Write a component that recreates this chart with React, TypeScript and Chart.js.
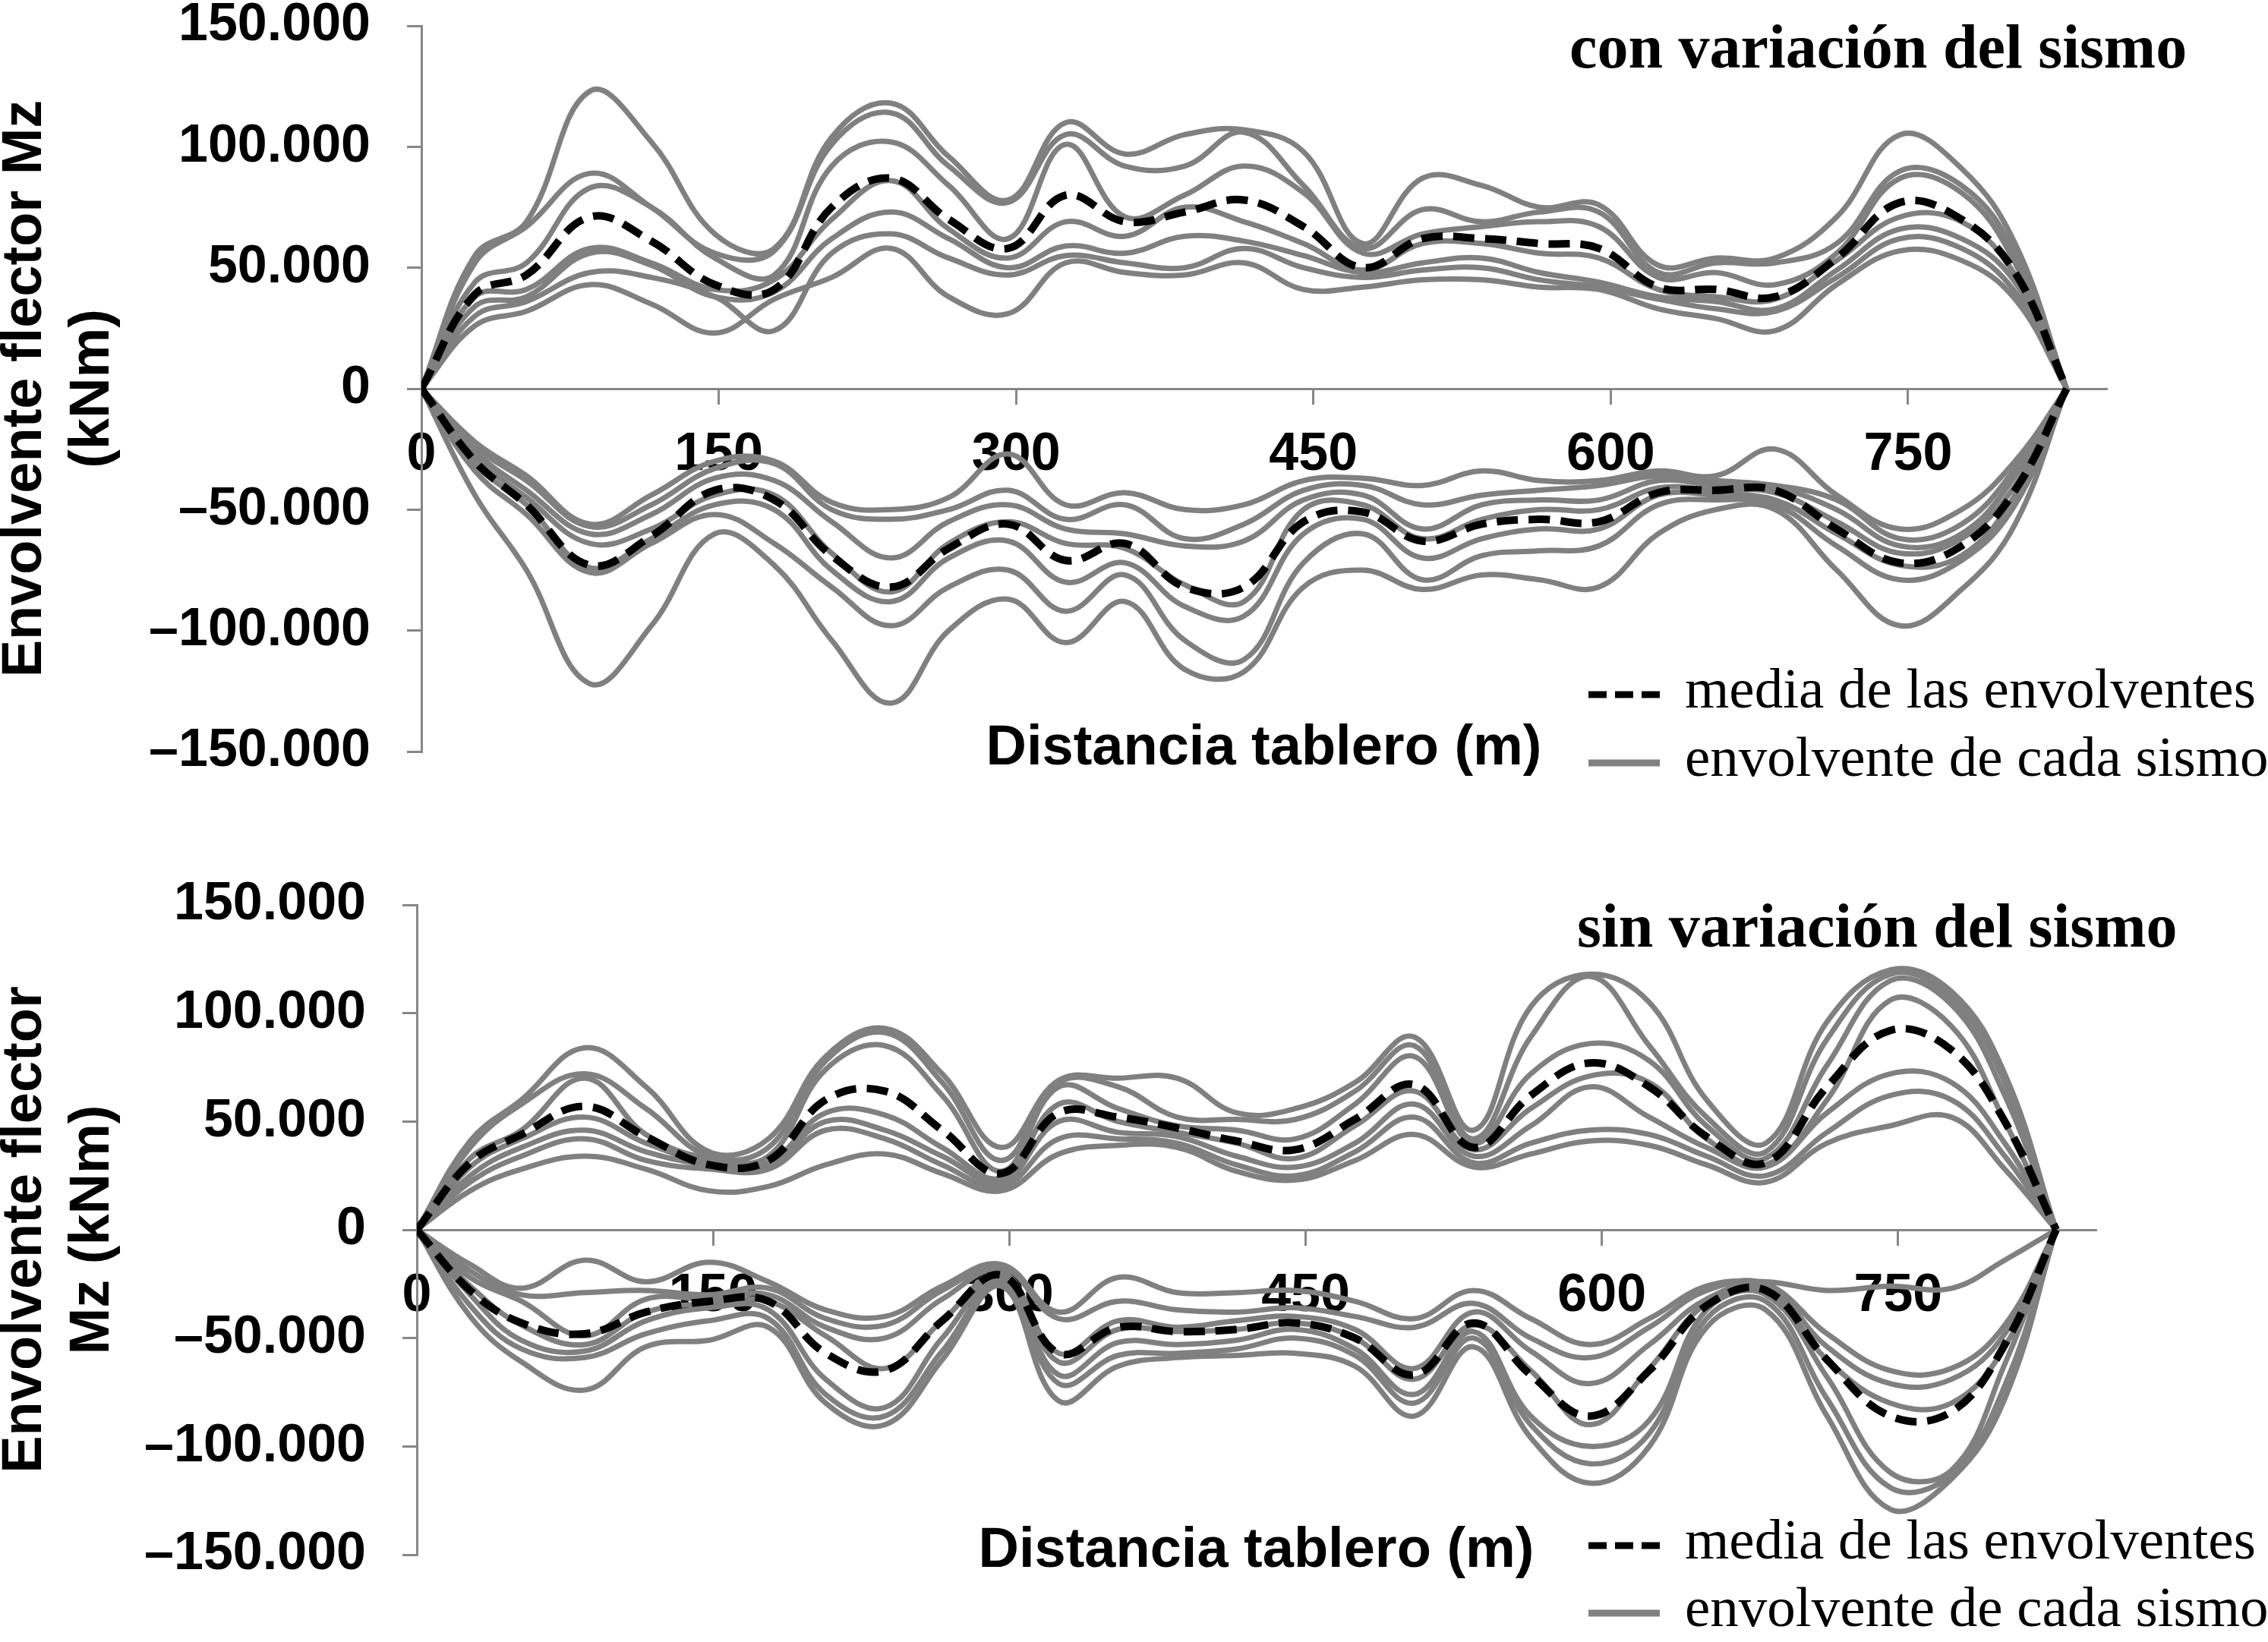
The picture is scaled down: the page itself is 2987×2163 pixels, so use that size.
import { useEffect, useRef } from 'react';
import { Chart, registerables } from 'chart.js';

Chart.register(...registerables);

// distance along the deck (m) where each envelope was sampled
const stations = [0, 27, 53, 85, 116, 148, 178, 207, 237, 266, 296, 325, 355, 385, 415, 445, 475, 505, 535, 564, 594, 624, 653, 683, 714, 746, 777, 804, 830];

// values in thousands of kNm, one row per earthquake record
const conMaxSeries = [
  [0, 55, 69, 123, 102, 64, 58, 104, 118, 96, 78, 110, 97, 105, 107, 98, 60, 87, 84, 75, 76, 51, 54, 54, 71, 105, 91, 60, 0],
  [0, 52, 67, 89, 75, 56, 57, 101, 114, 92, 77, 105, 92, 92, 106, 84, 58, 74, 69, 73, 73, 48, 52, 52, 60, 90, 84, 56, 0],
  [0, 44, 52, 83, 75, 54, 47, 92, 102, 84, 62, 101, 71, 80, 92, 81, 56, 64, 67, 69, 67, 46, 48, 43, 56, 87, 81, 52, 0],
  [0, 38, 41, 58, 52, 41, 45, 70, 86, 66, 54, 69, 63, 75, 69, 60, 49, 60, 60, 56, 54, 41, 38, 37, 53, 71, 69, 47, 0],
  [0, 34, 38, 56, 51, 38, 40, 62, 73, 62, 50, 59, 56, 63, 61, 55, 48, 52, 54, 48, 44, 38, 36, 33, 49, 66, 62, 44, 0],
  [0, 30, 36, 48, 46, 38, 24, 56, 64, 54, 47, 55, 52, 50, 58, 50, 46, 49, 50, 45, 42, 37, 33, 32, 46, 62, 58, 40, 0],
  [0, 26, 32, 43, 35, 23, 37, 46, 58, 38, 31, 52, 48, 47, 52, 41, 42, 45, 45, 42, 41, 33, 29, 24, 43, 57, 53, 37, 0],
];
const conMaxMean = [0, 39, 47, 71, 61, 43, 41, 75, 87, 70, 58, 80, 69, 73, 78, 67, 50, 62, 62, 60, 58, 42, 41, 38, 54, 77, 70, 48, 0];

const conMinSeries = [
  [0, -44, -75, -122, -98, -60, -73, -104, -130, -100, -87, -105, -88, -116, -117, -82, -75, -83, -77, -79, -82, -60, -50, -50, -75, -98, -83, -56, 0],
  [0, -34, -52, -76, -64, -52, -64, -82, -98, -82, -75, -92, -77, -104, -112, -72, -60, -79, -69, -67, -65, -48, -46, -48, -65, -79, -71, -48, 0],
  [0, -31, -48, -74, -62, -48, -50, -75, -88, -70, -63, -80, -72, -90, -94, -60, -54, -70, -62, -58, -58, -44, -44, -46, -60, -73, -69, -44, 0],
  [0, -28, -45, -64, -58, -44, -44, -68, -84, -64, -55, -64, -66, -81, -88, -50, -48, -62, -54, -50, -50, -41, -42, -43, -55, -68, -62, -40, 0],
  [0, -26, -42, -60, -52, -37, -38, -55, -70, -55, -48, -58, -60, -65, -63, -46, -44, -58, -48, -46, -46, -38, -40, -41, -50, -65, -60, -36, 0],
  [0, -24, -38, -57, -48, -33, -31, -50, -54, -50, -42, -54, -48, -62, -56, -42, -40, -48, -44, -42, -40, -36, -38, -40, -46, -62, -56, -33, 0],
  [0, -22, -36, -56, -44, -30, -30, -47, -50, -45, -27, -48, -43, -50, -48, -38, -37, -40, -34, -38, -38, -34, -36, -25, -44, -58, -50, -30, 0],
];
const conMinMean = [0, -30, -48, -73, -61, -42, -46, -69, -82, -66, -56, -71, -64, -82, -82, -55, -51, -63, -56, -54, -55, -43, -42, -42, -58, -72, -65, -42, 0];

const sinMaxSeries = [
  [0, 41, 60, 84, 66, 36, 42, 80, 93, 72, 38, 69, 70, 70, 54, 56, 68, 89, 46, 103, 118, 105, 60, 40, 96, 120, 110, 72, 0],
  [0, 38, 58, 72, 56, 34, 38, 78, 91, 68, 32, 68, 66, 52, 51, 51, 64, 85, 42, 89, 117, 85, 52, 36, 88, 118, 107, 68, 0],
  [0, 33, 46, 70, 44, 33, 34, 74, 85, 62, 27, 66, 56, 48, 46, 42, 58, 80, 40, 72, 86, 78, 48, 33, 76, 115, 104, 62, 0],
  [0, 29, 42, 52, 40, 31, 31, 54, 53, 38, 24, 58, 50, 45, 40, 33, 48, 64, 37, 56, 71, 68, 42, 30, 60, 106, 94, 50, 0],
  [0, 25, 38, 46, 36, 30, 30, 50, 46, 34, 22, 50, 45, 43, 34, 29, 40, 58, 34, 48, 66, 52, 38, 29, 54, 72, 68, 40, 0],
  [0, 22, 34, 42, 32, 28, 28, 46, 42, 30, 20, 42, 42, 40, 30, 25, 36, 52, 31, 40, 46, 44, 34, 25, 45, 62, 60, 34, 0],
  [0, 18, 28, 34, 28, 18, 20, 30, 35, 26, 18, 35, 39, 38, 27, 23, 32, 44, 29, 35, 41, 39, 30, 22, 40, 48, 52, 28, 0],
];
const sinMaxMean = [0, 31, 44, 57, 43, 30, 32, 60, 64, 46, 26, 54, 52, 47, 41, 37, 51, 67, 38, 62, 77, 66, 43, 31, 66, 92, 83, 50, 0];

const sinMinSeries = [
  [0, -40, -61, -74, -54, -51, -45, -80, -90, -60, -26, -79, -63, -59, -58, -57, -63, -86, -54, -96, -117, -100, -45, -37, -86, -129, -115, -78, 0],
  [0, -35, -55, -59, -48, -42, -41, -76, -86, -56, -24, -71, -58, -57, -55, -50, -58, -80, -50, -90, -108, -94, -41, -33, -78, -119, -113, -72, 0],
  [0, -30, -51, -56, -42, -36, -37, -69, -82, -50, -22, -67, -52, -53, -51, -46, -55, -76, -47, -86, -100, -88, -37, -30, -68, -112, -111, -62, 0],
  [0, -26, -44, -53, -38, -34, -33, -49, -64, -42, -20, -61, -46, -47, -46, -43, -50, -69, -44, -65, -90, -64, -34, -28, -60, -80, -80, -54, 0],
  [0, -22, -33, -49, -32, -32, -30, -45, -50, -32, -19, -57, -42, -45, -42, -40, -46, -64, -38, -56, -71, -53, -32, -26, -54, -71, -69, -48, 0],
  [0, -19, -30, -29, -28, -30, -27, -41, -44, -28, -17, -41, -33, -37, -38, -36, -40, -45, -34, -50, -59, -45, -28, -25, -48, -65, -64, -44, 0],
  [0, -16, -27, -14, -24, -15, -24, -37, -40, -26, -16, -38, -22, -29, -29, -28, -33, -41, -28, -41, -53, -41, -26, -24, -28, -26, -27, -14, 0],
];
const sinMinMean = [0, -28, -43, -48, -38, -33, -33, -57, -65, -42, -21, -57, -45, -47, -46, -43, -50, -67, -43, -67, -86, -65, -35, -28, -60, -86, -84, -53, 0];

const xTicks = [0, 150, 300, 450, 600, 750];
const legendLabels = ['media de las envolventes', 'envolvente de cada sismo'];

const SANS = '"Liberation Sans", Arial, sans-serif';
const SERIF = '"Liberation Serif", "Times New Roman", serif';
const GRAY = '#808080';
const AXIS = '#878787';

const toPoints = (vals: number[]) => stations.map((x, i) => ({ x, y: vals[i] * 1000 }));

const fmtMoment = (v: number) => {
  if (v === 0) return '0';
  const a = Math.abs(v);
  const s = Math.floor(a / 1000) + '.' + String(a % 1000).padStart(3, '0');
  return (v < 0 ? '\u2013' : '') + s;
};

const overlay = {
  id: 'overlay',
  afterDraw(chart: Chart, _args: unknown, o: any) {
    const ctx = chart.ctx;
    ctx.save();
    ctx.fillStyle = '#000';
    ctx.textAlign = 'left';
    ctx.textBaseline = 'alphabetic';
    ctx.font = `bold 82px ${SERIF}`;
    ctx.fillText(o.title, o.titleX, o.titleY);

    ctx.lineCap = 'butt';
    ctx.strokeStyle = '#000';
    ctx.lineWidth = 9;
    ctx.setLineDash([24, 11]);
    ctx.beginPath();
    ctx.moveTo(2092, o.row1);
    ctx.lineTo(2186, o.row1);
    ctx.stroke();
    ctx.setLineDash([]);
    ctx.strokeStyle = GRAY;
    ctx.lineWidth = 9;
    ctx.beginPath();
    ctx.moveTo(2092, o.row2);
    ctx.lineTo(2186, o.row2);
    ctx.stroke();

    ctx.font = `75px ${SERIF}`;
    ctx.fillText(legendLabels[0], 2219, o.row1 + 17);
    ctx.fillText(legendLabels[1], 2219, o.row2 + 17);
    ctx.restore();
  },
};

interface Props {
  top: number;
  height: number;
  pad: { top: number; right: number; bottom: number; left: number };
  yWidth: number;
  xTitleH: number;
  yTitle: string[];
  maxSeries: number[][];
  maxMean: number[];
  minSeries: number[][];
  minMean: number[];
  overlayOpts: { title: string; titleX: number; titleY: number; row1: number; row2: number };
}

function EnvelopeChart(p: Props) {
  const canvasRef = useRef<HTMLCanvasElement>(null);

  useEffect(() => {
    if (!canvasRef.current) return;
    const mean = (vals: number[]) => ({
      data: toPoints(vals),
      borderColor: '#000',
      borderWidth: 10,
      borderDash: [28, 14],
      tension: 0.4,
      pointRadius: 0,
      fill: false,
    });
    const gray = (vals: number[]) => ({
      data: toPoints(vals),
      borderColor: GRAY,
      borderWidth: 7,
      tension: 0.4,
      pointRadius: 0,
      fill: false,
    });
    const chart = new Chart(canvasRef.current, {
      type: 'line',
      data: {
        datasets: [
          mean(p.maxMean),
          mean(p.minMean),
          ...p.maxSeries.map(gray),
          ...p.minSeries.map(gray),
        ],
      },
      options: {
        animation: false,
        responsive: false,
        devicePixelRatio: 1,
        layout: { padding: p.pad },
        plugins: {
          legend: { display: false },
          tooltip: { enabled: false },
          overlay: p.overlayOpts,
        } as any,
        scales: {
          x: {
            type: 'linear',
            min: 0,
            max: 850,
            position: { y: 0 } as any,
            afterBuildTicks: (s: any) => { s.ticks = xTicks.map((value) => ({ value })); },
            afterFit: (s: any) => { s.height = p.xTitleH; },
            ticks: {
              autoSkip: false,
              maxRotation: 0,
              padding: 27,
              color: '#000',
              font: { family: SANS, size: 70, weight: 'bold' },
              callback: (v: any) => String(v),
            },
            grid: { drawOnChartArea: false, drawTicks: true, tickLength: 19, color: AXIS, lineWidth: 3 },
            border: { display: true, color: AXIS, width: 3 },
            title: {
              display: true,
              text: 'Distancia tablero (m)',
              color: '#000',
              padding: 0,
              font: { family: SANS, size: 74, weight: 'bold' },
            },
          },
          y: {
            type: 'linear',
            min: -150000,
            max: 150000,
            afterFit: (s: any) => { s.width = p.yWidth; },
            ticks: {
              stepSize: 50000,
              padding: 48,
              color: '#000',
              font: { family: SANS, size: 70, weight: 'bold', lineHeight: 0.9 },
              callback: (v: any) => fmtMoment(Number(v)),
            },
            grid: { drawOnChartArea: false, drawTicks: true, tickLength: 19, color: AXIS, lineWidth: 3 },
            border: { display: true, color: AXIS, width: 3 },
            title: {
              display: true,
              text: p.yTitle,
              color: '#000',
              padding: { top: -11, bottom: 0 },
              font: { family: SANS, size: 74, weight: 'bold' },
            },
          },
        },
      },
      plugins: [overlay],
    });
    return () => { chart.destroy(); };
  }, []);

  return (
    <div style={{ position: 'absolute', left: 0, top: p.top, width: 2987, height: p.height }}>
      <canvas ref={canvasRef} width={2987} height={p.height} style={{ display: 'block' }} />
    </div>
  );
}

export default function App() {
  return (
    <div style={{ position: 'absolute', left: 0, top: 0, width: 2987, height: 2163, overflow: 'hidden', background: '#fff' }}>
      <EnvelopeChart
        top={-50}
        height={1140}
        pad={{ top: 84, right: 213, bottom: 100, left: 0 }}
        yWidth={555}
        xTitleH={519}
        yTitle={['Envolvente flector Mz', '(kNm)']}
        maxSeries={conMaxSeries}
        maxMean={conMaxMean}
        minSeries={conMinSeries}
        minMean={conMinMean}
        overlayOpts={{ title: 'con variación del sismo', titleX: 2067, titleY: 139, row1: 965, row2: 1055 }}
      />
      <EnvelopeChart
        top={1040}
        height={1123}
        pad={{ top: 152, right: 227, bottom: 115, left: 0 }}
        yWidth={549}
        xTitleH={468}
        yTitle={['Envolvente flector', 'Mz (kNm)']}
        maxSeries={sinMaxSeries}
        maxMean={sinMaxMean}
        minSeries={sinMinSeries}
        minMean={sinMinMean}
        overlayOpts={{ title: 'sin variación del sismo', titleX: 2077, titleY: 207, row1: 996, row2: 1085 }}
      />
    </div>
  );
}
